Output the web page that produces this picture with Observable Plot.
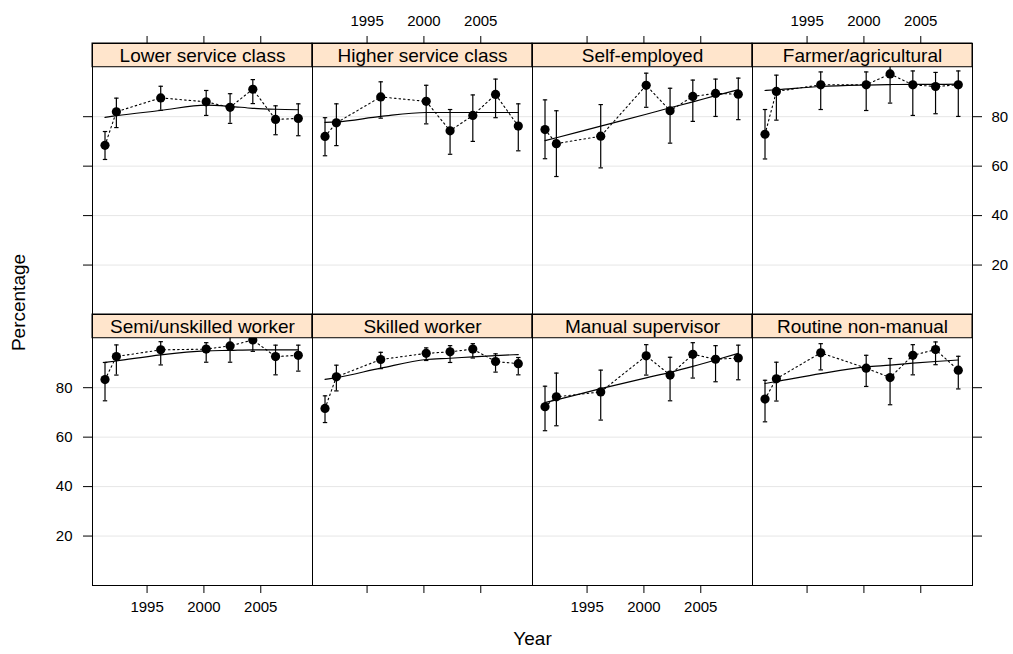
<!DOCTYPE html>
<html><head><meta charset="utf-8">
<script src="https://cdn.jsdelivr.net/npm/d3@7"></script>
<script src="https://cdn.jsdelivr.net/npm/@observablehq/plot@0.6"></script>
<style>body{margin:0;background:#fff}</style>
</head><body><div id="chart"></div>
<script>
const panels = ["Lower service class","Higher service class","Self-employed","Farmer/agricultural",
                "Semi/unskilled worker","Skilled worker","Manual supervisor","Routine non-manual"];
const years = [1991.3, 1992.3, 1996.2, 2000.2, 2002.3, 2004.3, 2006.3, 2008.3];
const estimate = [
  [68.4, 82.0, 87.6, 86.0, 83.8, 91.1, 78.9, 79.3],
  [72.0, 77.5, 88.0, 86.2, 74.3, 80.5, 89.0, 76.2],
  [74.8, 69.1, 72.1, 92.7, 82.4, 88.2, 89.4, 89.1],
  [72.9, 90.2, 92.9, 92.9, 97.3, 92.9, 92.2, 92.9],
  [83.3, 92.6, 95.3, 95.6, 96.9, 99.3, 92.6, 93.1],
  [71.6, 84.4, 91.4, 93.9, 94.5, 95.6, 90.6, 89.7],
  [72.3, 76.3, 78.3, 92.9, 85.1, 93.5, 91.5, 92.0],
  [75.4, 83.6, 94.1, 87.9, 84.1, 93.1, 95.4, 87.1]
];
const lower = [
  [62.7, 75.6, 82.6, 80.5, 77.3, 85.3, 72.7, 72.3],
  [64.2, 68.3, 79.4, 77.1, 64.8, 70.0, 79.6, 66.2],
  [63.0, 55.8, 59.3, 83.8, 69.3, 78.1, 80.1, 78.8],
  [62.9, 78.6, 82.9, 82.5, 85.5, 80.5, 81.2, 80.1],
  [74.7, 85.1, 89.2, 90.3, 90.3, 94.7, 85.2, 86.7],
  [65.9, 78.7, 87.7, 91.0, 90.2, 92.0, 86.3, 85.2],
  [62.6, 64.6, 66.9, 85.1, 74.7, 83.9, 82.4, 83.2],
  [66.2, 74.6, 87.2, 80.5, 73.1, 85.2, 89.3, 79.5]
];
const upper = [
  [74.0, 87.5, 92.3, 90.6, 89.3, 95.0, 84.4, 85.2],
  [79.6, 85.2, 94.1, 92.7, 82.9, 88.8, 95.2, 85.2],
  [86.8, 82.4, 84.9, 97.6, 91.5, 94.8, 95.2, 95.6],
  [82.9, 96.8, 98.1, 98.1, 109.1, 98.5, 97.9, 98.5],
  [90.2, 97.3, 98.6, 98.2, 103.5, 103.9, 97.2, 97.2],
  [76.7, 89.1, 94.3, 96.1, 97.0, 97.8, 93.7, 92.2],
  [80.6, 85.9, 87.1, 97.4, 92.3, 98.2, 97.0, 97.2],
  [83.0, 90.3, 97.8, 93.1, 91.8, 97.4, 98.5, 92.7]
];
const fitted = [
  [79.7, 80.4, 82.5, 84.7, 84.2, 83.4, 83.0, 82.8],
  [77.7, 77.9, 80.1, 81.7, 81.7, 81.7, 81.7, 81.7],
  [70.3, 71.5, 76.2, 81.0, 83.6, 86.0, 88.5, 90.9],
  [90.6, 90.9, 92.2, 92.8, 93.0, 93.1, 93.1, 93.2],
  [90.2, 90.8, 93.3, 94.9, 95.1, 95.3, 95.3, 95.3],
  [83.4, 84.1, 87.9, 91.4, 91.9, 92.5, 93.0, 93.4],
  [74.0, 75.1, 79.6, 84.0, 86.2, 88.6, 91.2, 93.9],
  [81.7, 82.5, 85.7, 88.4, 89.1, 89.9, 90.6, 91.2]
];
const xTicks = [1995, 2000, 2005];
const yTicks = [20, 40, 60, 80];

const nCols = 4;
const xDomain = [1990.2, 2009.55];
const yMax = 100;      // top of the data area
const yStrip = 109.6;  // top of the strip area

const rows = [];
panels.forEach((name, p) => years.forEach((year, i) => rows.push({
  name, col: p % nCols, row: Math.floor(p / nCols), year,
  est: estimate[p][i], lo: lower[p][i], hi: upper[p][i], fit: fitted[p][i]
})));
const strips = panels.map((name, p) => ({name, col: p % nCols, row: Math.floor(p / nCols)}));

const cap = {draw(ctx, size) { const r = Math.sqrt(size / Math.PI); ctx.moveTo(-r, 0); ctx.lineTo(r, 0); }};

const xLabelsBottom = [0, 2].flatMap(col => xTicks.map(year => ({col, row: 1, year})));
const xLabelsTop = [1, 3].flatMap(col => xTicks.map(year => ({col, row: 0, year})));
const yLabelsLeft = yTicks.map(v => ({col: 0, row: 1, v}));
const yLabelsRight = yTicks.map(v => ({col: 3, row: 0, v}));

const F = {fx: "col", fy: "row"};

const chart = Plot.plot({
  width: 1013, height: 654,
  marginLeft: 92, marginRight: 41, marginTop: 42, marginBottom: 69,
  style: {fontFamily: "'Liberation Sans', Arial, sans-serif", fontSize: "15px", background: "white", color: "black"},
  fx: {domain: [0, 1, 2, 3], padding: 0, axis: null},
  fy: {domain: [0, 1], padding: 0, axis: null},
  x: {domain: xDomain},
  y: {domain: [0, yStrip]},
  marks: [
    Plot.gridY(yTicks, {stroke: "#e6e6e6", strokeOpacity: 1}),
    Plot.line(rows, {...F, x: "year", y: "fit", z: "name", stroke: "black", strokeWidth: 1.2, curve: "monotone-x"}),
    Plot.line(rows, {...F, x: "year", y: "est", z: "name", stroke: "black", strokeWidth: 1.1, strokeDasharray: "1.6,3"}),
    Plot.ruleX(rows, {...F, x: "year", y1: "lo", y2: "hi", stroke: "black", strokeWidth: 1.2}),
    Plot.dot(rows, {...F, x: "year", y: "lo", symbol: cap, r: 2.2, stroke: "black", fill: "none", strokeWidth: 1.2}),
    Plot.dot(rows, {...F, x: "year", y: "hi", symbol: cap, r: 2.2, stroke: "black", fill: "none", strokeWidth: 1.2}),
    Plot.dot(rows, {...F, x: "year", y: "est", r: 4.6, fill: "black", stroke: "none"}),
    Plot.rect(strips, {...F, x1: () => xDomain[0], x2: () => xDomain[1], y1: () => yMax, y2: () => yStrip, fill: "#ffe5cc", stroke: "black", strokeWidth: 1}),
    Plot.text(strips, {...F, text: "name", frameAnchor: "top", dy: 12, fontSize: 19, lineAnchor: "middle"}),
    Plot.frame({stroke: "black", strokeWidth: 1}),
    Plot.axisX(xTicks, {anchor: "bottom", facetAnchor: "bottom", tickSize: 8, tickFormat: () => "", label: null}),
    Plot.axisX(xTicks, {anchor: "top", facetAnchor: "top", tickSize: 8, tickFormat: () => "", label: null}),
    Plot.axisY(yTicks, {anchor: "left", facetAnchor: "left", tickSize: 9, tickFormat: () => "", label: null}),
    Plot.axisY(yTicks, {anchor: "right", facetAnchor: "right", tickSize: 9, tickFormat: () => "", label: null}),
    Plot.text(xLabelsBottom, {...F, x: "year", text: d => String(d.year), frameAnchor: "bottom", dy: 22, lineAnchor: "middle"}),
    Plot.text(xLabelsTop, {...F, x: "year", text: d => String(d.year), frameAnchor: "top", dy: -22, lineAnchor: "middle"}),
    Plot.text(yLabelsLeft, {...F, y: "v", text: d => String(d.v), frameAnchor: "left", dx: -20, textAnchor: "end"}),
    Plot.text(yLabelsRight, {...F, y: "v", text: d => String(d.v), frameAnchor: "right", dx: 19, textAnchor: "start"}),
    Plot.text(["Year"], {facet: "super", text: d => d, frameAnchor: "bottom", dy: 53, fontSize: 19, lineAnchor: "middle"}),
    Plot.text(["Percentage"], {facet: "super", text: d => d, frameAnchor: "left", dx: -74, dy: -12, rotate: -90, textAnchor: "middle", fontSize: 19, lineAnchor: "middle"})
  ]
});
document.getElementById("chart").appendChild(chart);
</script>
</body></html>
